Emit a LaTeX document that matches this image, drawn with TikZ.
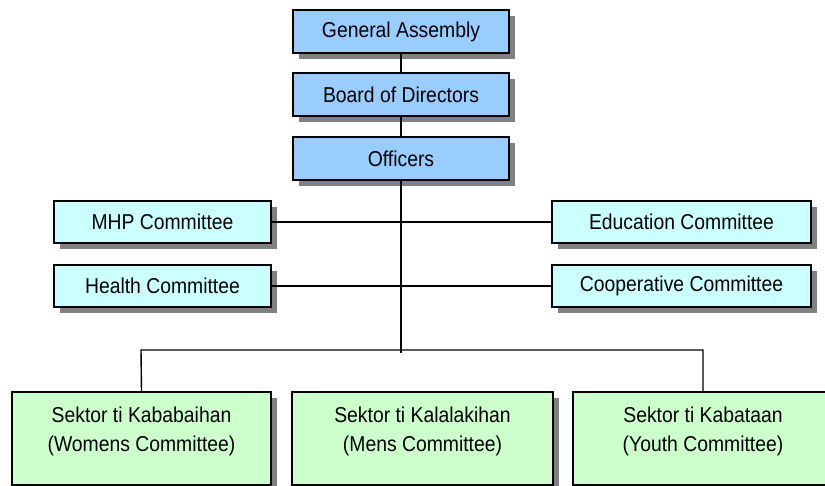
\documentclass[tikz,border=0pt]{standalone}
\usepackage{fontspec}
\setmainfont{Liberation Sans}[FakeStretch=0.9]
\usetikzlibrary{shadows}
\definecolor{topblue}{HTML}{99CCFF}
\definecolor{midcyan}{HTML}{CCFFFF}
\definecolor{botgreen}{HTML}{CCFFCC}
\definecolor{shadowgray}{HTML}{808080}
\begin{document}
\begin{tikzpicture}[x=1bp,y=-1bp,
  font=\fontsize{21.5bp}{29bp}\selectfont,
  box/.style={draw=black, line width=1.4bp, inner sep=0pt,
    drop shadow={shadow xshift=6bp, shadow yshift=-6bp, fill=shadowgray, opacity=1}},
  topbox/.style={box, fill=topblue, minimum width=216bp, minimum height=43bp},
  leftbox/.style={box, fill=midcyan, minimum width=217bp, minimum height=42bp},
  rightbox/.style={box, fill=midcyan, minimum width=259bp, minimum height=42bp},
  botbox/.style={box, fill=botgreen, minimum height=93bp},
  txt/.style={inner sep=0pt, align=center},
  conn/.style={draw=black, line width=1.4bp}]
\useasboundingbox (0,0) rectangle (825,486);
\fill[white] (0,0) rectangle (825,486);
% connectors drawn first (behind boxes)
\coordinate (hub) at (401,353);
\coordinate (busL) at (141,350);
\coordinate (busR) at (703,350);
\coordinate (busM) at (401,350);

\node[topbox] (ga) at (401,31.5) {General Assembly};
\node[topbox] (bod) at (401,94.5) {Board of Directors};
\node[topbox] (off) at (401,158.5) {Officers};

\node[leftbox] (mhp) at (162.5,222) {MHP Committee};
\node[leftbox] (health) at (162.5,286) {Health Committee};
\node[rightbox] (edu) at (681.5,222) {Education Committee};
\node[rightbox] (coop) at (681.5,286) {Cooperative Committee};

\node[botbox, minimum width=259bp] (women) at (141.5,438.5) {};
\node[botbox, minimum width=261bp] (men) at (422.5,438.5) {};
\node[botbox, minimum width=260bp] (youth) at (703,438.5) {};
\node[txt] (womentxt) at (141.5,431) {Sektor ti Kababaihan\\(Womens Committee)};
\node[txt] (mentxt) at (422.5,431) {Sektor ti Kalalakihan\\(Mens Committee)};
\node[txt] (youthtxt) at (703,431) {Sektor ti Kabataan\\(Youth Committee)};

\draw[conn] (ga.south) -- (bod.north);
\draw[conn] (bod.south) -- (off.north);
\draw[conn] (off.south) -- (hub);
\draw[conn] (mhp.east) -- (edu.west);
\draw[conn] (health.east) -- (coop.west);
\draw[conn] (women.north) -- (busL) -- (busR) -- (youth.north);
\end{tikzpicture}
\end{document}
